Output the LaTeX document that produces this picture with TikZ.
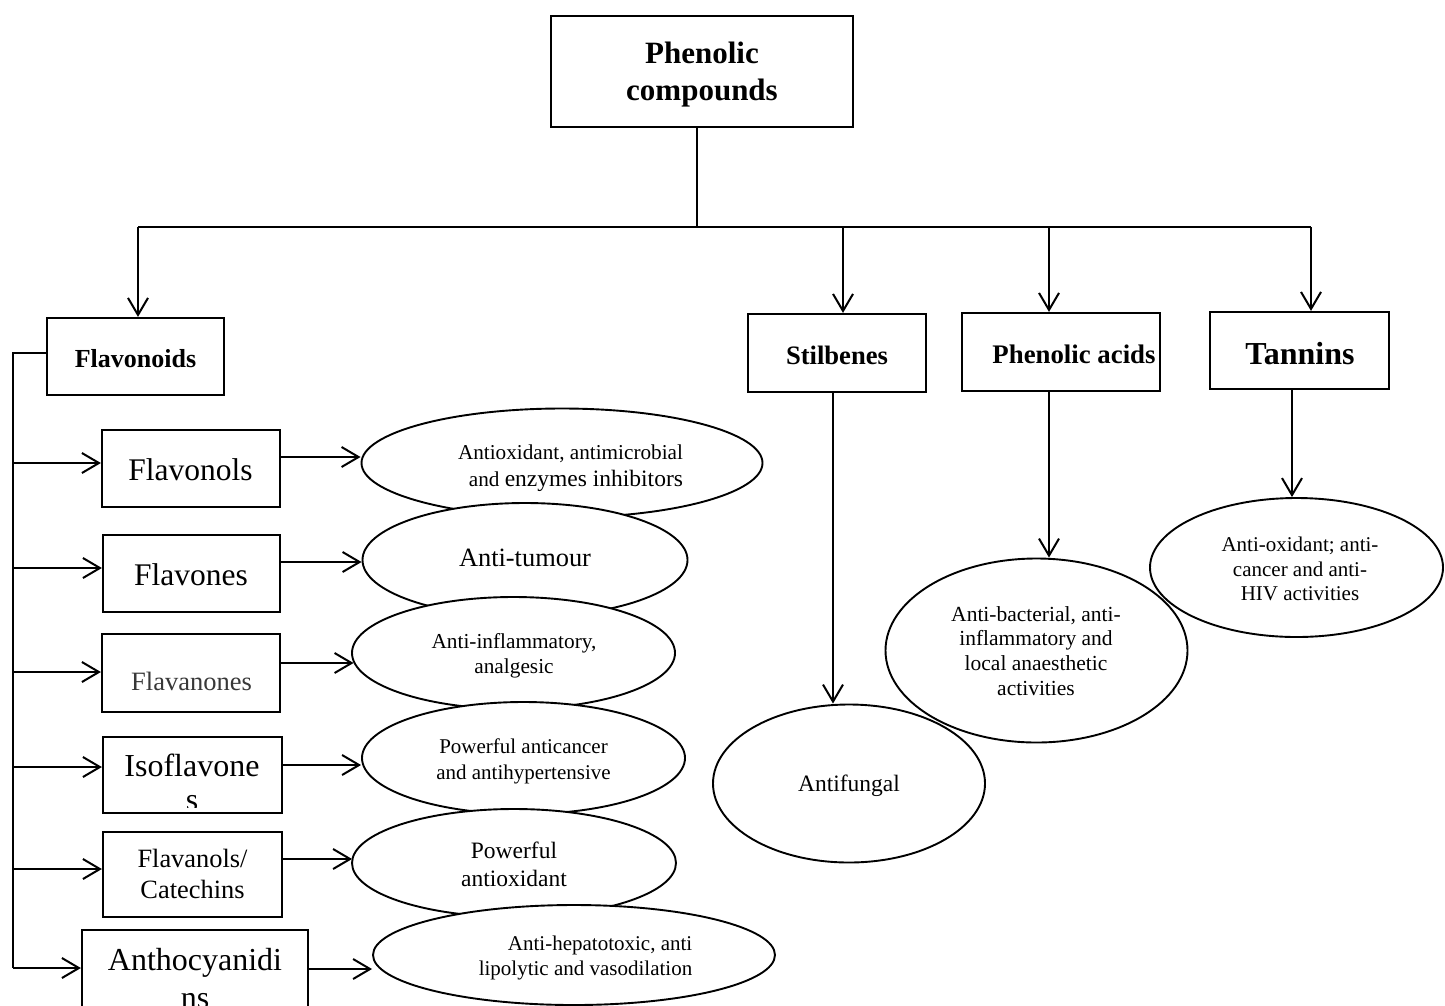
\documentclass[tikz,border=0pt]{standalone}
\usepackage{fontspec}
\setmainfont{Liberation Serif}
\usetikzlibrary{arrows.meta,shapes.geometric}

% font size / baseline skip in one go
\newcommand{\setfs}[2]{\fontsize{#1}{#2}\selectfont}
% stacked lines, baseline on the first row
\newcommand{\txtrows}[2]{\begin{tabular}[t]{@{}#1@{}}#2\end{tabular}}

\tikzset{
  box/.style={draw, line width=2.2pt, rectangle, inner sep=0pt},
  ell/.style={draw, fill=white, line width=1.9pt, ellipse, inner sep=0pt},
  lbl/.style={anchor=base, inner sep=0pt},
  link/.style={line width=2pt},
  arr/.style={link, -{Straight Barb[length=17pt,width=20pt]}},
}

\begin{document}
\begin{tikzpicture}[x=1pt,y=-1pt]
\useasboundingbox (0,0) rectangle (1445,1005);
\clip (0,0) rectangle (1445,1005);

% ---------- boxes ----------
\node[box, minimum width=302pt, minimum height=111pt] (top)  at (702,71.5)   {};
\node[box, minimum width=177pt, minimum height=77pt]  (fv)   at (135.5,356.5) {};
\node[box, minimum width=178pt, minimum height=78pt]  (stil) at (837,353)    {};
\node[box, minimum width=198pt, minimum height=78pt]  (pa)   at (1061,352)   {};
\node[box, minimum width=179pt, minimum height=77pt]  (tan)  at (1299.5,350.5) {};
\node[box, minimum width=178pt, minimum height=77pt]  (b1)   at (191,468.5)  {};
\node[box, minimum width=177pt, minimum height=77pt]  (b2)   at (191.5,573.5) {};
\node[box, minimum width=178pt, minimum height=78pt]  (b3)   at (191,673)    {};
\node[box, minimum width=179pt, minimum height=76pt]  (b4)   at (192.5,775)  {};
\node[box, minimum width=179pt, minimum height=85pt]  (b5)   at (192.5,874.5) {};
\node[box, minimum width=226pt, minimum height=85pt]  (b6)   at (195,972.5)  {};

% ---------- ellipses (later ones overlap earlier ones) ----------
\node[ell, minimum width=401pt, minimum height=109pt] (e1) at (562,463)    {};
\node[ell, minimum width=325pt, minimum height=114pt] (e2) at (525,560)    {};
\node[ell, minimum width=323pt, minimum height=112pt] (e3) at (513.5,653)  {};
\node[ell, minimum width=323pt, minimum height=112pt] (e4) at (523.5,758)  {};
\node[ell, minimum width=324pt, minimum height=108pt] (e5) at (514,863)    {};
\node[ell, minimum width=402pt, minimum height=100pt] (e6) at (574,955)    {};
\node[ell, minimum width=302pt, minimum height=184pt] (pae) at (1036.5,650.5) {};
\node[ell, minimum width=272pt, minimum height=158pt] (af)  at (849,783.5)   {};
\node[ell, minimum width=293pt, minimum height=139pt] (tae) at (1296.5,567.5) {};

% ---------- box labels ----------
\node[lbl, font=\setfs{31}{37}\bfseries] (ttop) at (702,63) {\txtrows{c}{Phenolic\\compounds}};
\node[lbl, font=\setfs{26}{30}\bfseries] (tfv)  at (135.5,367) {Flavonoids};
\node[lbl, font=\setfs{26.6}{30}\bfseries] (tstil) at (837,364) {Stilbenes};
\node[lbl, font=\setfs{26.8}{30}\bfseries] (tpa)  at (1074,363.3) {Phenolic acids};
\node[lbl, font=\setfs{32}{36}\bfseries] (ttan) at (1300,364) {Tannins};
\node[lbl, font=\setfs{31.5}{36}] (t1) at (190.5,480) {Flavonols};
\node[lbl, font=\setfs{31.5}{36}] (t2) at (191,585) {Flavones};
\node[lbl, font=\setfs{26.5}{30}, text=black!78] (t3) at (191.5,690) {Flavanones};
\begin{scope}
  \clip (b4.north west) rectangle ([yshift=7pt]b4.south east);
  \node[lbl, font=\setfs{32}{34}] (t4) at (192,776) {\txtrows{c}{Isoflavone\\s}};
\end{scope}
\node[lbl, font=\setfs{26.4}{31}] (t5) at (192.5,867.7) {\txtrows{c}{Flavanols/\\Catechins}};
\node[lbl, font=\setfs{32}{38}] (t6) at (195,970) {\txtrows{c}{Anthocyanidi\\ns}};

% ---------- ellipse labels ----------
\node[lbl, font=\setfs{21.2}{26.7}] (te1) at (570.5,459.3)
  {\txtrows{r}{Antioxidant, antimicrobial\\and {\setfs{23.5}{26.7}enzymes inhibitors}}};
\node[lbl, font=\setfs{26.4}{30}] (te2) at (525,566.7) {Anti-tumour};
\node[lbl, font=\setfs{21.3}{25}] (te3) at (514,648.3) {\txtrows{c}{Anti-inflammatory,\\analgesic}};
\node[lbl, font=\setfs{21}{26}] (te4) at (523.5,753) {\txtrows{c}{Powerful anticancer\\and antihypertensive}};
\node[lbl, font=\setfs{23.5}{28.7}] (te5) at (514,858) {\txtrows{c}{Powerful\\antioxidant}};
\node[lbl, font=\setfs{21}{25}] (te6) at (585.5,950) {\txtrows{r}{Anti-hepatotoxic, anti\\lipolytic and vasodilation}};
\node[lbl, font=\setfs{23.5}{28}] (taf) at (849,791.7) {Antifungal};
\node[lbl, font=\setfs{21.5}{24.7}] (tpae) at (1036,621)
  {\txtrows{c}{Anti-bacterial, anti-\\inflammatory and\\local anaesthetic\\activities}};
\node[lbl, font=\setfs{21}{24.3}] (ttae) at (1300,551.7)
  {\txtrows{c}{Anti-oxidant; anti-\\cancer and anti-\\HIV activities}};

% ---------- top-level tree ----------
\coordinate (bus) at (697,227);
\coordinate (j1) at (138,227);
\coordinate (j2) at (843,227);
\coordinate (j3) at (1049,227);
\coordinate (j4) at (1311,227);
\draw[link] (bus |- top.south) -- (bus);
\draw[link] (j1) -- (j4);
\draw[arr] (j1) -- (j1 |- fv.north);
\draw[arr] (j2) -- (j2 |- stil.north);
\draw[arr] (j3) -- (j3 |- pa.north);
\draw[arr] (j4) -- (j4 |- tan.north);

% ---------- right-hand groups ----------
\coordinate (d1) at ([xshift=-4pt]stil.south);
\coordinate (d2) at ([xshift=-12pt]pa.south);
\coordinate (d3) at ([xshift=-7.5pt]tan.south);
\draw[arr] (d1) -- (d1 |- af.north);
\draw[arr] (d2) -- (d2 |- pae.north);
\draw[arr] (d3) -- (d3 |- tae.north);

% ---------- flavonoid spine ----------
\coordinate (s0) at (13,353);
\coordinate (s1) at (13,463);
\coordinate (s2) at (13,568);
\coordinate (s3) at (13,672);
\coordinate (s4) at (13,767);
\coordinate (s5) at (13,869);
\coordinate (s6) at (13,968);
\draw[link] ([yshift=3.5pt]fv.west) -- (s0) -- (s6);
\draw[arr] (s1) -- (s1 -| b1.west);
\draw[arr] (s2) -- (s2 -| b2.west);
\draw[arr] (s3) -- (s3 -| b3.west);
\draw[arr] (s4) -- (s4 -| b4.west);
\draw[arr] (s5) -- (s5 -| b5.west);
\draw[arr] (s6) -- (s6 -| b6.west);

% ---------- subclass to activity ----------
\coordinate (r1) at ([yshift=11.5pt]b1.east);
\coordinate (r2) at ([yshift=11.5pt]b2.east);
\coordinate (r3) at ([yshift=10pt]b3.east);
\coordinate (r4) at ([yshift=10pt]b4.east);
\coordinate (r5) at ([yshift=15.5pt]b5.east);
\coordinate (r6) at ([yshift=3.5pt]b6.east);
\draw[arr] (r1) -- (r1 -| e1.west);
\draw[arr] (r2) -- (r2 -| e2.west);
\draw[arr] (r3) -- ([xshift=2.5pt]r3 -| e3.west);
\draw[arr] (r4) -- (r4 -| e4.west);
\draw[arr] (r5) -- ([xshift=1pt]r5 -| e5.west);
\draw[arr] (r6) -- (r6 -| e6.west);
\end{tikzpicture}
\end{document}
